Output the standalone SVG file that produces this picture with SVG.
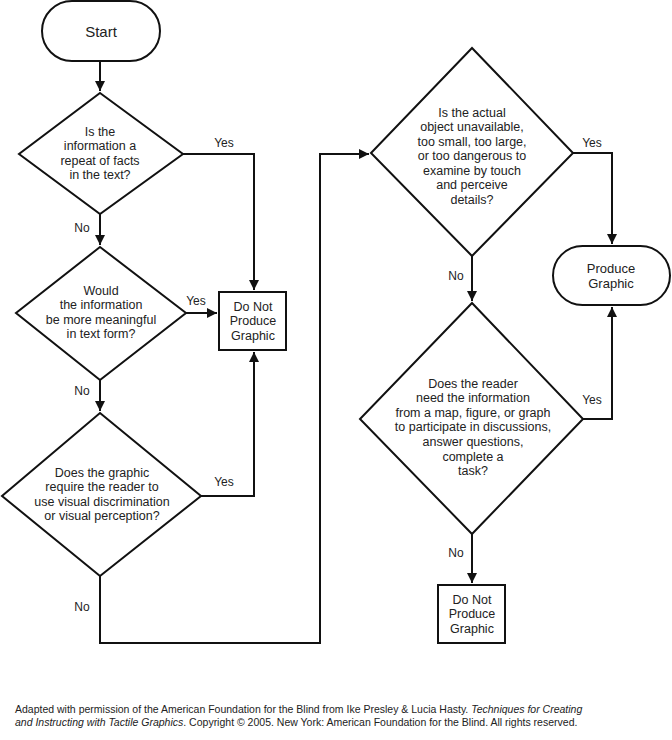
<svg xmlns="http://www.w3.org/2000/svg" width="672" height="740" viewBox="0 0 672 740">
<style>
.shape{fill:#fff;stroke:#111;stroke-width:2}
.t{font-family:"Liberation Sans",Arial,sans-serif;font-size:12.5px;fill:#222;text-anchor:middle}
.lbl{font-family:"Liberation Sans",Arial,sans-serif;font-size:12px;fill:#222;text-anchor:middle}
.conn{fill:none;stroke:#111;stroke-width:2}
.foot{font-family:"Liberation Sans",Arial,sans-serif;font-size:10.5px;fill:#222}
</style>
<defs>
<marker id="arr" markerUnits="userSpaceOnUse" markerWidth="12" markerHeight="12" viewBox="0 0 12 12" refX="11" refY="6" orient="auto">
<path d="M1,1 L11,6 L1,11 Z" fill="#111"/>
</marker>
</defs>
<rect width="672" height="740" fill="#fff"/>
<g id="connectors">
<path class="conn" d="M100 61 V91" marker-end="url(#arr)"/>
<path class="conn" d="M183 154 H254 V290" marker-end="url(#arr)"/>
<path class="conn" d="M100 214 V245" marker-end="url(#arr)"/>
<path class="conn" d="M186 313 H217" marker-end="url(#arr)"/>
<path class="conn" d="M100 380 V411" marker-end="url(#arr)"/>
<path class="conn" d="M201 496 H254 V352" marker-end="url(#arr)"/>
<path class="conn" d="M100 576 V643 H320 V154 H369" marker-end="url(#arr)"/>
<path class="conn" d="M573 153 H612 V244" marker-end="url(#arr)"/>
<path class="conn" d="M472 256 V301" marker-end="url(#arr)"/>
<path class="conn" d="M583 419 H612 V307" marker-end="url(#arr)"/>
<path class="conn" d="M472 534 V583" marker-end="url(#arr)"/>
<text class="lbl" x="224" y="147">Yes</text>
<text class="lbl" x="82" y="232">No</text>
<text class="lbl" x="196" y="305">Yes</text>
<text class="lbl" x="82" y="395">No</text>
<text class="lbl" x="224" y="486">Yes</text>
<text class="lbl" x="82" y="611">No</text>
<text class="lbl" x="592" y="147">Yes</text>
<text class="lbl" x="456" y="280">No</text>
<text class="lbl" x="592" y="404">Yes</text>
<text class="lbl" x="456" y="557">No</text>
</g>
<g id="start">
<rect class="shape" x="42" y="1" width="118" height="60" rx="30"/>
<text class="t" x="101" y="36.5" style="font-size:15px">Start</text>
</g>
<g id="d1">
<polygon class="shape" points="100,93 183,154 100,214 19,154"/>
<text class="t" x="100" y="135.5">Is the</text>
<text class="t" x="100" y="150">information a</text>
<text class="t" x="100" y="164.5">repeat of facts</text>
<text class="t" x="100" y="179">in the text?</text>
</g>
<g id="d2">
<polygon class="shape" points="100,247 186,313 100,380 16,313"/>
<text class="t" x="101" y="294.5">Would</text>
<text class="t" x="101" y="308.5">the information</text>
<text class="t" x="101" y="323.5">be more meaningful</text>
<text class="t" x="101" y="337.5">in text form?</text>
</g>
<g id="d3">
<polygon class="shape" points="100,413 201,496 100,576 2,496"/>
<text class="t" x="102" y="476.5">Does the graphic</text>
<text class="t" x="102" y="490.5">require the reader to</text>
<text class="t" x="102" y="505.5">use visual discrimination</text>
<text class="t" x="102" y="519.5">or visual perception?</text>
</g>
<g id="dnp1">
<rect class="shape" x="219" y="292" width="67" height="58"/>
<text class="t" x="253" y="310.5">Do Not</text>
<text class="t" x="253" y="325">Produce</text>
<text class="t" x="253" y="339.5">Graphic</text>
</g>
<g id="d4">
<polygon class="shape" points="472,48 573,153 472,256 371,153"/>
<text class="t" x="472" y="116.5">Is the actual</text>
<text class="t" x="472" y="131">object unavailable,</text>
<text class="t" x="472" y="145.5">too small, too large,</text>
<text class="t" x="472" y="160">or too dangerous to</text>
<text class="t" x="472" y="174.5">examine by touch</text>
<text class="t" x="472" y="189">and perceive</text>
<text class="t" x="472" y="203.5">details?</text>
</g>
<g id="produce">
<rect class="shape" x="553" y="246" width="117" height="59" rx="29.5"/>
<text class="t" x="611" y="273" style="font-size:13px">Produce</text>
<text class="t" x="611" y="288" style="font-size:13px">Graphic</text>
</g>
<g id="d5">
<polygon class="shape" points="472,303 583,419 472,534 360,419"/>
<text class="t" x="473" y="387.5">Does the reader</text>
<text class="t" x="473" y="402">need the information</text>
<text class="t" x="473" y="416.5">from a map, figure, or graph</text>
<text class="t" x="473" y="431">to participate in discussions,</text>
<text class="t" x="473" y="446">answer questions,</text>
<text class="t" x="473" y="460.5">complete a</text>
<text class="t" x="473" y="474.5">task?</text>
</g>
<g id="dnp2">
<rect class="shape" x="438" y="585" width="67" height="58"/>
<text class="t" x="472" y="603.5">Do Not</text>
<text class="t" x="472" y="618">Produce</text>
<text class="t" x="472" y="632.5">Graphic</text>
</g>
<g id="footer" xml:space="preserve">
<text class="foot" x="15" y="713">Adapted with permission of the American Foundation for the Blind from Ike Presley &amp; Lucia Hasty.  <tspan font-style="italic">Techniques for Creating</tspan></text>
<text class="foot" x="15" y="726"><tspan font-style="italic">and Instructing with Tactile Graphics</tspan>. Copyright © 2005. New York: American Foundation for the Blind.  All rights reserved.</text>
</g>
</svg>
